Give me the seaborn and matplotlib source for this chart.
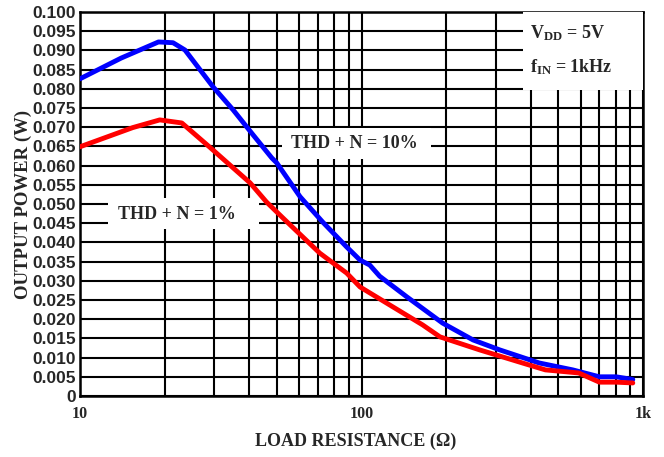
import numpy as np
import pandas as pd
import matplotlib
matplotlib.use("Agg")
import matplotlib.pyplot as plt
import seaborn as sns
from matplotlib.ticker import FixedLocator, FixedFormatter, NullFormatter
from matplotlib.patches import Rectangle

# datos
r_10 = [10, 14, 19, 21.4, 23.6, 29.7, 35, 41.2, 48, 50, 60.5, 72.8, 88.6, 98.8, 107, 116,
        145, 194, 249, 310, 428, 563, 700, 802, 920]
p_10 = [0.0826, 0.088, 0.0922, 0.0920, 0.0901, 0.0805, 0.0745, 0.068, 0.062, 0.0607, 0.0519,
        0.0453, 0.0388, 0.0354, 0.0341, 0.0312, 0.0258, 0.019, 0.0146, 0.012, 0.0086,
        0.0068, 0.005, 0.005, 0.0043]

r_1 = [10, 15.4, 19.2, 23, 28.9, 35, 40.2, 46, 52.7, 57.2, 71.1, 88.6, 98.8, 126, 165, 190,
       263, 373, 450, 591, 700, 802, 920]
p_1 = [0.0649, 0.0699, 0.0719, 0.0711, 0.0648, 0.0594, 0.0555, 0.0505, 0.0463, 0.0438,
       0.0372, 0.032, 0.0284, 0.0237, 0.0185, 0.0154, 0.012, 0.0086, 0.0068, 0.006,
       0.0036, 0.0036, 0.0034]

y_ticks = np.round(np.arange(0, 0.1001, 0.005), 3)
y_labels = ["0"] + [f"{v:.3f}" for v in y_ticks[1:]]
x_ticks = [10, 100, 1000]
x_labels = ["10", "100", "1k"]

df = pd.concat([
    pd.DataFrame({"R": r_10, "P": p_10, "serie": "10%"}),
    pd.DataFrame({"R": r_1, "P": p_1, "serie": "1%"}),
])

sns.set_style("white")
plt.rcParams["mathtext.fontset"] = "custom"
plt.rcParams["mathtext.rm"] = "Liberation Serif:bold"
plt.rcParams["mathtext.bf"] = "Liberation Serif:bold"

fig, ax = plt.subplots(figsize=(6.64, 4.57), dpi=100)
fig.subplots_adjust(left=80/664, right=643/664, top=1-12/457, bottom=1-396/457)

sns.lineplot(data=df, x="R", y="P", hue="serie", palette={"10%": "#0000ff", "1%": "#ff0000"},
             linewidth=3.5, legend=False, ax=ax, zorder=4)

ax.set_xscale("log")
ax.set_xlim(10, 1000)
ax.set_ylim(0, 0.1)

# ejes y rejilla
ax.yaxis.set_major_locator(FixedLocator(y_ticks))
ax.yaxis.set_major_formatter(FixedFormatter(y_labels))
ax.xaxis.set_major_locator(FixedLocator(x_ticks))
ax.xaxis.set_major_formatter(FixedFormatter(x_labels))
ax.xaxis.set_minor_locator(FixedLocator([20, 30, 40, 50, 60, 70, 80, 90,
                                         200, 300, 400, 500, 600, 700, 800, 900]))
ax.xaxis.set_minor_formatter(NullFormatter())
ax.set_axisbelow(True)
ax.grid(True, which="both", color="black", linewidth=1.5)
ax.tick_params(which="both", length=0)
ax.tick_params(axis="x", pad=7)
ax.tick_params(axis="y", pad=3)
for s in ax.spines.values():
    s.set_color("black")
    s.set_linewidth(1.8)

for lab in ax.get_yticklabels():
    lab.set_fontfamily(["Liberation Sans Narrow", "Liberation Sans"])
    lab.set_fontweight("bold")
    lab.set_fontsize(12.5)
for lab in ax.get_xticklabels():
    lab.set_fontfamily("Liberation Serif")
    lab.set_fontweight("bold")
    lab.set_fontsize(11.5)

ax.set_xlabel("LOAD RESISTANCE (Ω)", fontfamily="Liberation Serif", fontweight="bold", fontsize=13)
ax.set_ylabel("OUTPUT POWER (W)", fontfamily="Liberation Serif", fontweight="bold", fontsize=13.5)
ax.xaxis.set_label_coords(0.49, -0.096)
ax.yaxis.set_label_coords(-0.085, 0.5)

# cajas blancas sobre la rejilla
for x0, y0, w, h in [(0.359, 0.617, 0.264, 0.081), (0.050, 0.435, 0.268, 0.081),
                     (0.787, 0.797, 0.213, 0.203)]:
    ax.add_patch(Rectangle((x0, y0), w, h, transform=ax.transAxes,
                           facecolor="white", edgecolor="none", zorder=3))

txt = dict(transform=ax.transAxes, va="center", fontfamily="Liberation Serif",
           fontweight="bold", fontsize=13, zorder=5)
ax.text(0.487, 0.657, "THD + N = 10%", ha="center", **txt)
ax.text(0.173, 0.473, "THD + N = 1%", ha="center", **txt)
ax.text(0.800, 0.945, r"$\mathrm{V_{DD}}$ = 5V", ha="left", **txt)
ax.text(0.800, 0.857, r"$\mathrm{f_{IN}}$ = 1kHz", ha="left", **txt)

fig.savefig("out.png", dpi=100)
